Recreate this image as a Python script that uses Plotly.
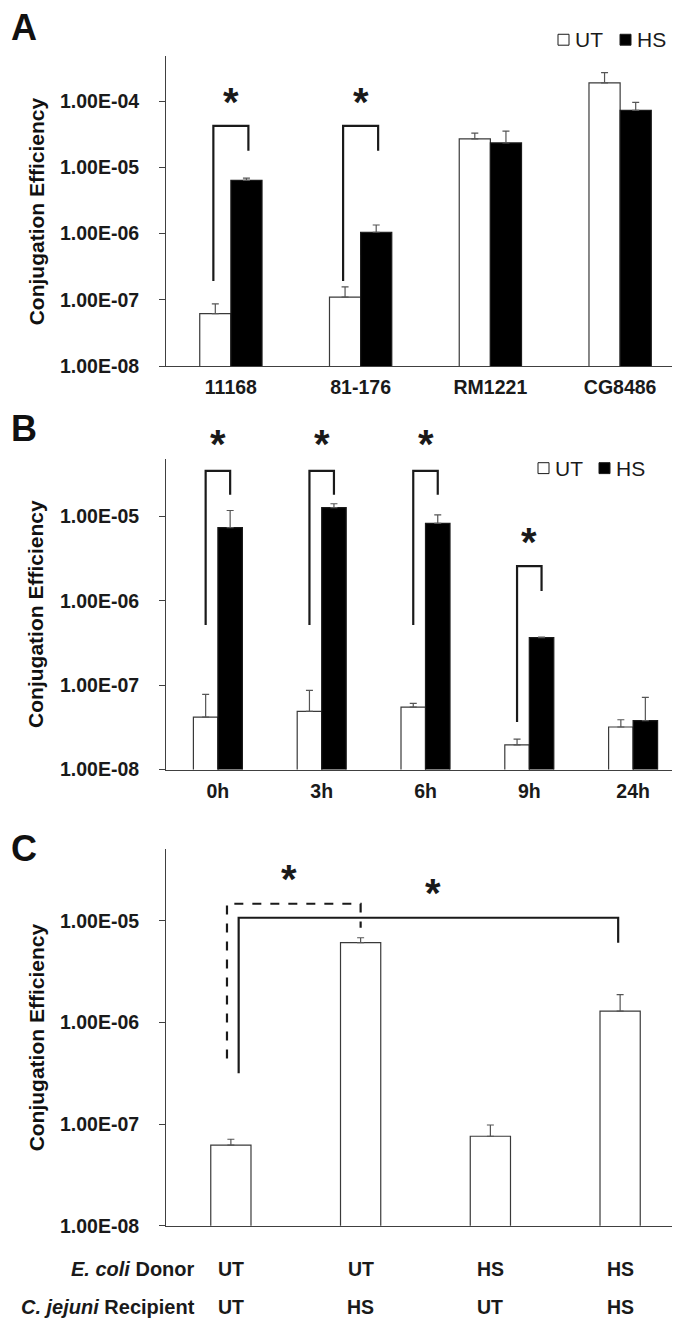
import numpy as np
import plotly.graph_objects as go

# ---------------- data ----------------
strains = ["11168", "81-176", "RM1221", "CG8486"]
a_ut = [6.2e-8, 1.1e-7, 2.7e-5, 1.9e-4]
a_ut_err = [2.5e-8, 4.7e-8, 0.6e-5, 0.8e-4]
a_hs = [6.4e-6, 1.05e-6, 2.35e-5, 7.3e-5]
a_hs_err = [0.5e-6, 0.3e-6, 1.2e-5, 2.3e-5]

times = ["0h", "3h", "6h", "9h", "24h"]
b_ut = [4.2e-8, 4.9e-8, 5.5e-8, 1.97e-8, 3.2e-8]
b_ut_err = [3.6e-8, 3.8e-8, 0.6e-8, 0.33e-8, 0.7e-8]
b_hs = [7.4e-6, 1.28e-5, 8.3e-6, 3.67e-7, 3.8e-8]
b_hs_err = [4.4e-6, 0.14e-5, 2.2e-6, 0.05e-7, 3.4e-8]

donor = ["UT", "UT", "HS", "HS"]
recipient = ["UT", "HS", "UT", "HS"]
c_val = [6.2e-8, 6.1e-6, 7.6e-8, 1.29e-6]
c_err = [0.9e-8, 0.7e-6, 2.2e-8, 0.59e-6]

ticks_a = [1e-8, 1e-7, 1e-6, 1e-5, 1e-4]
ticks_bc = [1e-8, 1e-7, 1e-6, 1e-5]

# significance brackets: (left idx, right idx, top, left bottom, right bottom)
brackets_a = [(0, 0, 4.24e-5, 1.92e-7, 1.79e-5), (1, 1, 4.24e-5, 1.92e-7, 1.79e-5)]
brackets_b = [(0, 0, 3.48e-5, 5.2e-7, 1.82e-5), (1, 1, 3.48e-5, 5.2e-7, 1.82e-5),
              (2, 2, 3.48e-5, 5.2e-7, 1.82e-5), (3, 3, 2.58e-6, 3.67e-8, 1.31e-6)]

# ---------------- style ----------------
FONT = "Liberation Sans"
AX = "#404040"
TXT = "#1a1a1a"
W, H = 680, 1323
X0, X1 = 158 / W, 677 / W


def py(px):
    return 1 - px / H


fig = go.Figure()

wa = 0.24
wb = 0.236
wc = 0.31
err_style = dict(type="data", symmetric=False, color="#555555", thickness=1.2, width=3.5)


def add_pair(xref, yref, n, ut, ute, hs, hse, w):
    idx = list(range(n))
    fig.add_trace(go.Bar(x=idx, y=ut, width=w, offset=-w, name="UT",
                         marker=dict(color="white", line=dict(color="#3a3a3a", width=1.2)),
                         error_y=dict(array=ute, arrayminus=[0] * n, **err_style),
                         xaxis=xref, yaxis=yref, showlegend=False))
    fig.add_trace(go.Bar(x=idx, y=hs, width=w, offset=0, name="HS",
                         marker=dict(color="black", line=dict(color="#1a1a1a", width=1.2)),
                         error_y=dict(array=hse, arrayminus=[0] * n, **err_style),
                         xaxis=xref, yaxis=yref, showlegend=False))


add_pair("x", "y", 4, a_ut, a_ut_err, a_hs, a_hs_err, wa)
add_pair("x2", "y2", 5, b_ut, b_ut_err, b_hs, b_hs_err, wb)
fig.add_trace(go.Bar(x=list(range(4)), y=c_val, width=wc, offset=-wc / 2,
                     marker=dict(color="white", line=dict(color="#3a3a3a", width=1.2)),
                     error_y=dict(array=c_err, arrayminus=[0] * 4, **err_style),
                     xaxis="x3", yaxis="y3", showlegend=False))


def add_bracket(xref, yref, xl, xr, top, lb, rb, dash="solid"):
    fig.add_trace(go.Scatter(x=[xl, xl, xr, xr], y=[lb, top, top, rb], mode="lines",
                             line=dict(color="#1a1a1a", width=2.2, dash=dash),
                             xaxis=xref, yaxis=yref, showlegend=False, hoverinfo="skip"))


annotations = []


def star(xref, x, ypx):
    annotations.append(dict(x=x, y=py(ypx - 2), xref=xref, yref="paper", text="<b>*</b>",
                            showarrow=False, font=dict(family=FONT, size=40, color="#1a1a1a"),
                            xanchor="center", yanchor="middle"))


offa = 0.135
for (i, j, top, lb, rb) in brackets_a:
    add_bracket("x", "y", i - offa, j + offa, top, lb, rb)
    star("x", i, 97)

offb = wb / 2
star_b_px = [442, 442, 442, 540]
for k, (i, j, top, lb, rb) in enumerate(brackets_b):
    add_bracket("x2", "y2", i - offb, j + offb, top, lb, rb)
    star("x2", i, star_b_px[k])

# panel C brackets
add_bracket("x3", "y3", -0.03, 1.0, 1.47e-5, 4.43e-7, 8.53e-6, dash="dash")
add_bracket("x3", "y3", 0.06, 2.985, 1.07e-5, 3.16e-7, 6.08e-6)
star("x3", 0.45, 880)
star("x3", 1.56, 894)


def yaxis(dom, rng, tv, anchor):
    return dict(domain=dom, type="log", range=rng, showgrid=False, zeroline=False,
                showline=True, linecolor=AX, linewidth=1, ticks="outside", ticklen=6,
                tickcolor=AX, tickwidth=1, tickvals=tv,
                ticktext=["1.00E-%02d" % (-int(round(np.log10(v)))) for v in tv],
                tickfont=dict(family=FONT, size=19.5, color=TXT, weight="bold"),
                ticklabelstandoff=16, anchor=anchor)


def xaxis(anchor, n, labels, show=True):
    return dict(domain=[X0, X1], range=[-0.5, n - 0.5], anchor=anchor, showgrid=False,
                zeroline=False, showline=True, linecolor=AX, linewidth=1, ticks="",
                tickvals=list(range(n)), ticktext=labels, showticklabels=show,
                tickfont=dict(family=FONT, size=19.5, color=TXT, weight="bold"),
                ticklabelstandoff=4)


ya = yaxis([py(361), py(48)], [-8, -3.31], ticks_a, "x")
yb = yaxis([py(768), py(455)], [-8, -4.32], ticks_bc, "x2")
yc = yaxis([py(1228), py(848)], [-8, -4.294], ticks_bc, "x3")

shapes = []


def legend(y, xs_ut, xs_hs):
    for (xa, fill, lab) in ((xs_ut, "white", "UT"), (xs_hs, "black", "HS")):
        shapes.append(dict(type="rect", xref="paper", yref="paper",
                           x0=xa / W, x1=(xa + 11) / W, y0=py(y + 5.5), y1=py(y - 5.5),
                           fillcolor=fill, line=dict(color="#1a1a1a", width=1)))
        annotations.append(dict(x=(xa + 15) / W, y=py(y), xref="paper", yref="paper",
                                xanchor="left", yanchor="middle", text=lab, showarrow=False,
                                font=dict(family=FONT, size=21, color=TXT)))


legend(32, 550, 612)
legend(464, 530, 591)

# panel labels and y titles
for lab, yc_ in (("A", 20), ("B", 424), ("C", 848)):
    annotations.append(dict(x=1 / W, y=py(yc_), xref="paper", yref="paper", xanchor="left",
                            yanchor="middle", text="<b>%s</b>" % lab, showarrow=False,
                            font=dict(family=FONT, size=36, color="#111111")))
for ycen in (205, 611, 1038):
    annotations.append(dict(x=28 / W, y=py(ycen), xref="paper", yref="paper", xanchor="center",
                            yanchor="middle", text="<b>Conjugation Efficiency</b>", textangle=-90,
                            showarrow=False, font=dict(family=FONT, size=21, color="#111111")))

# panel C table
for txt, yrow, vals in (("<b><i>E. coli</i> Donor</b>", 1272, donor),
                        ("<b><i>C. jejuni</i> Recipient</b>", 1310, recipient)):
    annotations.append(dict(x=189 / W, y=py(yrow), xref="paper", yref="paper", xanchor="right",
                            yanchor="middle", text=txt, showarrow=False,
                            font=dict(family=FONT, size=20, color=TXT)))
    for i, v in enumerate(vals):
        annotations.append(dict(x=i, y=py(yrow), xref="x3", yref="paper", xanchor="center",
                                yanchor="middle", text="<b>%s</b>" % v, showarrow=False,
                                font=dict(family=FONT, size=19.5, color=TXT)))

fig.update_layout(
    width=W, height=H, autosize=False, margin=dict(l=0, r=0, t=0, b=0),
    paper_bgcolor="white", plot_bgcolor="white", barmode="overlay",
    xaxis=xaxis("y", 4, strains), yaxis=ya,
    xaxis2=xaxis("y2", 5, times), yaxis2=yb,
    xaxis3=xaxis("y3", 4, [""] * 4, show=False), yaxis3=yc,
    shapes=shapes, annotations=annotations, showlegend=False,
)

fig.write_html("out.html")
